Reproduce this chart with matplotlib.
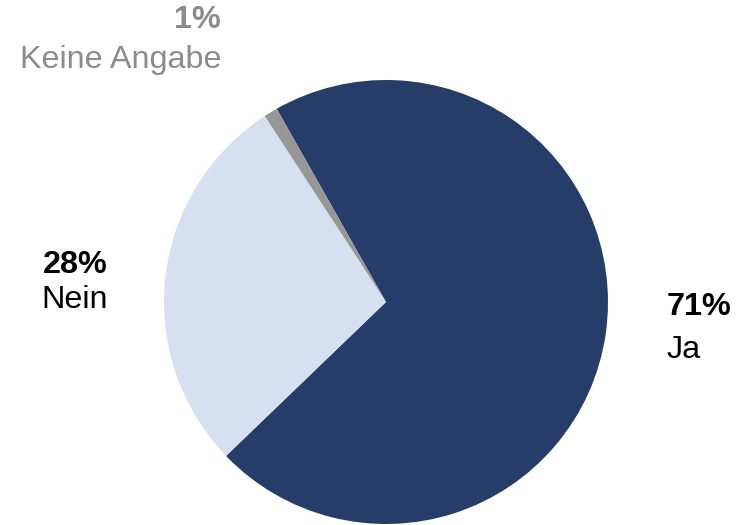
import matplotlib
matplotlib.use("Agg")
import matplotlib.pyplot as plt

plt.rcParams['font.family'] = ['Liberation Sans', 'DejaVu Sans']

categories = ["Ja", "Nein", "Keine Angabe"]
shares = [71, 28, 1]
colors = ["#253D68", "#D6E0F1", "#979797"]

W, H = 746, 525
fig = plt.figure(figsize=(W / 100, H / 100), dpi=100)
ax = fig.add_axes([0, 0, 1, 1])

ax.pie(shares, colors=colors, startangle=119.5, counterclock=False,
       center=(386, H - 302), radius=222, frame=True,
       wedgeprops=dict(linewidth=0))
ax.set_xlim(0, W)
ax.set_ylim(0, H)
ax.set_aspect('equal')
ax.axis('off')

fs = 23.3
label_specs = [
    # (x, y of value, y of name, ha, color)
    (667, H - 307, H - 350, 'left', 'black'),
    (75, H - 265, H - 300, 'center', 'black'),
    (221, H - 20, H - 60, 'right', '#8C8C8C'),
]
for cat, val, (x, yv, yn, ha, col) in zip(categories, shares, label_specs):
    ax.text(x, yv, f"{val}%", ha=ha, va='center', fontsize=fs,
            fontweight='bold', color=col)
    ax.text(x, yn, cat, ha=ha, va='center', fontsize=fs, color=col)

fig.savefig("out.png", dpi=100)
